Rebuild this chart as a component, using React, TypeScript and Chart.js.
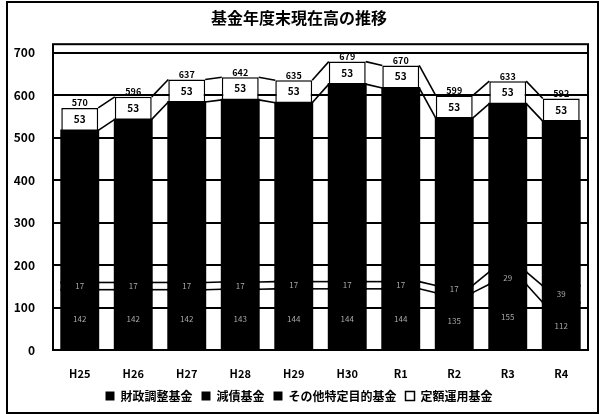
import React, { useEffect, useRef } from 'react';
import { Chart, registerables } from 'chart.js';

Chart.register(...registerables);

const categories = ['H25', 'H26', 'H27', 'H28', 'H29', 'H30', 'R1', 'R2', 'R3', 'R4'];
const zaiseiChosei = [142, 142, 142, 143, 144, 144, 144, 135, 155, 112];
const gensai = [17, 17, 17, 17, 17, 17, 17, 17, 29, 39];
const sonotaTokutei = [358, 384, 425, 429, 421, 465, 456, 394, 396, 388];
const teigakuUnyo = [53, 53, 53, 53, 53, 53, 53, 53, 53, 53];
const seriesNames = ['財政調整基金', '減債基金', 'その他特定目的基金', '定額運用基金'];
const yTicks = [0, 100, 200, 300, 400, 500, 600, 700];
const yMax = 720;
const titleText = '基金年度末現在高の推移';

const FONT = '"Noto Sans CJK JP", "Noto Sans", sans-serif';

const framePlugin = {
  id: 'frame',
  beforeDraw(chart: any) {
    const ctx = chart.ctx;
    ctx.save();
    ctx.fillStyle = '#fff';
    ctx.fillRect(0, 0, chart.width, chart.height);
    ctx.strokeStyle = '#000';
    ctx.lineWidth = 2;
    ctx.strokeRect(7, 2, chart.width - 11, chart.height - 3);
    ctx.restore();
  },
  afterDraw(chart: any) {
    const { ctx, chartArea } = chart;
    ctx.save();
    ctx.strokeStyle = '#000';
    ctx.lineWidth = 2;
    ctx.strokeRect(chartArea.left, chartArea.top, chartArea.right - chartArea.left, chartArea.bottom - chartArea.top);
    ctx.restore();
  },
};

const seriesLinesPlugin = {
  id: 'seriesLines',
  afterDatasetsDraw(chart: any) {
    const ctx = chart.ctx;
    ctx.save();
    ctx.strokeStyle = '#000';
    ctx.lineWidth = 1.6;
    chart.data.datasets.forEach((_: any, i: number) => {
      const meta = chart.getDatasetMeta(i);
      for (let j = 0; j < meta.data.length - 1; j++) {
        const a = meta.data[j].getProps(['x', 'y', 'width'], true);
        const b = meta.data[j + 1].getProps(['x', 'y', 'width'], true);
        ctx.beginPath();
        ctx.moveTo(a.x + a.width / 2, a.y);
        ctx.lineTo(b.x - b.width / 2, b.y);
        ctx.stroke();
      }
    });
    ctx.restore();
  },
};

const labelsPlugin = {
  id: 'valueLabels',
  afterDatasetsDraw(chart: any) {
    const ctx = chart.ctx;
    ctx.save();
    ctx.textAlign = 'center';
    ctx.textBaseline = 'middle';
    const n = chart.data.labels.length;
    chart.data.datasets.forEach((ds: any, i: number) => {
      const meta = chart.getDatasetMeta(i);
      meta.data.forEach((el: any, j: number) => {
        const p = el.getProps(['x', 'y', 'base'], true);
        const cy = (p.y + p.base) / 2;
        if (i === 3) {
          ctx.fillStyle = '#000';
          ctx.font = `bold 10px ${FONT}`;
        } else if (i === 2) {
          ctx.fillStyle = '#000';
          ctx.font = `8px ${FONT}`;
        } else {
          ctx.fillStyle = '#a8a8a8';
          ctx.font = `8px ${FONT}`;
        }
        ctx.fillText(String(ds.data[j]), p.x, cy);
      });
    });
    const lastMeta = chart.getDatasetMeta(chart.data.datasets.length - 1);
    for (let j = 0; j < n; j++) {
      const total = chart.data.datasets.reduce((s: number, d: any) => s + d.data[j], 0);
      const p = lastMeta.data[j].getProps(['x', 'y'], true);
      ctx.fillStyle = '#000';
      ctx.font = `bold 9px ${FONT}`;
      ctx.fillText(String(total), p.x, p.y - 5);
    }
    ctx.restore();
  },
};

export default function App() {
  const ref = useRef<HTMLCanvasElement | null>(null);
  useEffect(() => {
    if (!ref.current) return;
    const black = { backgroundColor: '#000', borderColor: '#000', borderWidth: 0, inflateAmount: 1 };
    const chart = new Chart(ref.current, {
      type: 'bar',
      data: {
        labels: categories,
        datasets: [
          { label: seriesNames[0], data: zaiseiChosei, ...black },
          { label: seriesNames[1], data: gensai, ...black },
          { label: seriesNames[2], data: sonotaTokutei, ...black },
          { label: seriesNames[3], data: teigakuUnyo, backgroundColor: '#fff', borderColor: '#000', borderWidth: 1.5 },
        ],
      },
      options: {
        animation: false,
        responsive: false,
        devicePixelRatio: 1,
        datasets: { bar: { barPercentage: 0.69, categoryPercentage: 1 } },
        layout: { padding: { left: 10, right: 14, top: 0, bottom: 2 } },
        plugins: {
          title: {
            display: true,
            text: titleText,
            color: '#000',
            font: { family: FONT, size: 16, weight: 'bold' },
            padding: { top: 8, bottom: 17 },
          },
          legend: {
            position: 'bottom',
            labels: {
              color: '#000',
              boxWidth: 9,
              boxHeight: 9,
              padding: 9,
              font: { family: FONT, size: 12, weight: 'bold' },
            },
          },
          tooltip: { enabled: false },
        },
        scales: {
          x: {
            stacked: true,
            grid: { display: false, drawTicks: false },
            border: { display: false },
            ticks: { color: '#000', padding: 17, font: { family: FONT, size: 11, weight: 'bold' } },
            afterFit: (s: any) => { s.height = 31; },
          },
          y: {
            stacked: true,
            min: 0,
            max: yMax,
            grid: { color: '#000', lineWidth: 2, drawTicks: false },
            border: { display: false },
            ticks: { color: '#000', padding: 18, font: { family: FONT, size: 12, weight: 'bold' } },
            afterBuildTicks: (s: any) => { s.ticks = yTicks.map((v) => ({ value: v })); },
            afterFit: (s: any) => { s.width = 43; },
          },
        },
      },
      plugins: [framePlugin, seriesLinesPlugin, labelsPlugin],
    } as any);
    return () => chart.destroy();
  }, []);
  return (
    <div style={{ position: 'fixed', left: 0, top: 0, width: 602, height: 414, background: '#fff' }}>
      <canvas ref={ref} width={602} height={414} style={{ display: 'block' }} />
    </div>
  );
}
